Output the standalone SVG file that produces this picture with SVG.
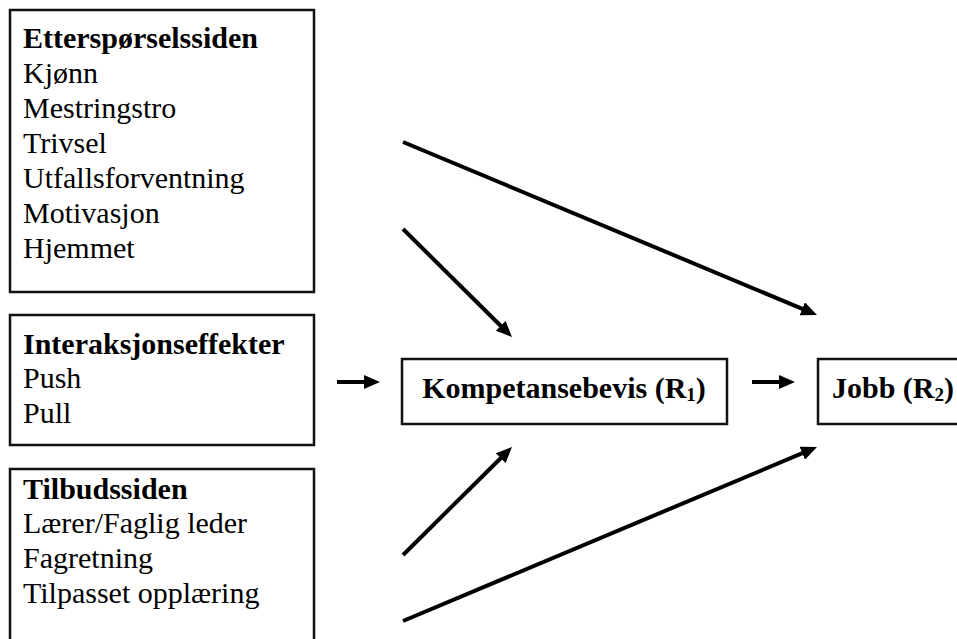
<svg xmlns="http://www.w3.org/2000/svg" width="957" height="639" viewBox="0 0 957 639">
<style>
.box{fill:#fff;stroke:#111;stroke-width:2.5}
.t{font-family:"Liberation Serif","Times New Roman",serif;font-size:30px;fill:#000}
.b{font-weight:bold}
.c{stroke:#000;stroke-width:4;fill:none;marker-end:url(#ah)}
</style>
<defs>
<marker id="ah" viewBox="0 0 16 14" refX="6" refY="7" markerWidth="16" markerHeight="14" markerUnits="userSpaceOnUse" orient="auto">
<path d="M0,0 L16,7 L0,14 z" fill="#000"/>
</marker>
</defs>
<rect width="957" height="639" fill="#fff"/>
<g id="ettersporsel">
<rect class="box" x="10" y="10" width="304" height="282"/>
<text class="t b" x="23" y="48">Etterspørselssiden</text>
<text class="t" x="23" y="83">Kjønn</text>
<text class="t" x="23" y="118">Mestringstro</text>
<text class="t" x="23" y="153">Trivsel</text>
<text class="t" x="23" y="188">Utfallsforventning</text>
<text class="t" x="23" y="223">Motivasjon</text>
<text class="t" x="23" y="258">Hjemmet</text>
</g>
<g id="interaksjon">
<rect class="box" x="10" y="315" width="304" height="130"/>
<text class="t b" x="23" y="354">Interaksjonseffekter</text>
<text class="t" x="23" y="388">Push</text>
<text class="t" x="23" y="423">Pull</text>
</g>
<g id="tilbud">
<rect class="box" x="10" y="469" width="304" height="200"/>
<text class="t b" x="23" y="499">Tilbudssiden</text>
<text class="t" x="23" y="533">Lærer/Faglig leder</text>
<text class="t" x="23" y="568">Fagretning</text>
<text class="t" x="23" y="603">Tilpasset opplæring</text>
</g>
<g id="kompetansebevis">
<rect class="box" x="402" y="359" width="325" height="65"/>
<text class="t b" x="564" y="398" text-anchor="middle">Kompetansebevis (R<tspan font-size="19" dy="3">1</tspan><tspan dy="-3">)</tspan></text>
</g>
<g id="jobb">
<rect class="box" x="818" y="359" width="160" height="65"/>
<text class="t b" x="832" y="398">Jobb (R<tspan font-size="19" dy="3">2</tspan><tspan dy="-3">)</tspan></text>
</g>
<g id="connectors">
<line class="c" x1="403" y1="142" x2="807.8" y2="311.1"/>
<line class="c" x1="403" y1="229" x2="504.9" y2="330"/>
<line class="c" x1="403" y1="555" x2="504.9" y2="454"/>
<line class="c" x1="403" y1="621" x2="807.8" y2="450.9"/>
<line class="c" x1="337" y1="382" x2="370" y2="382"/>
<line class="c" x1="752" y1="382" x2="785" y2="382"/>
</g>
</svg>
